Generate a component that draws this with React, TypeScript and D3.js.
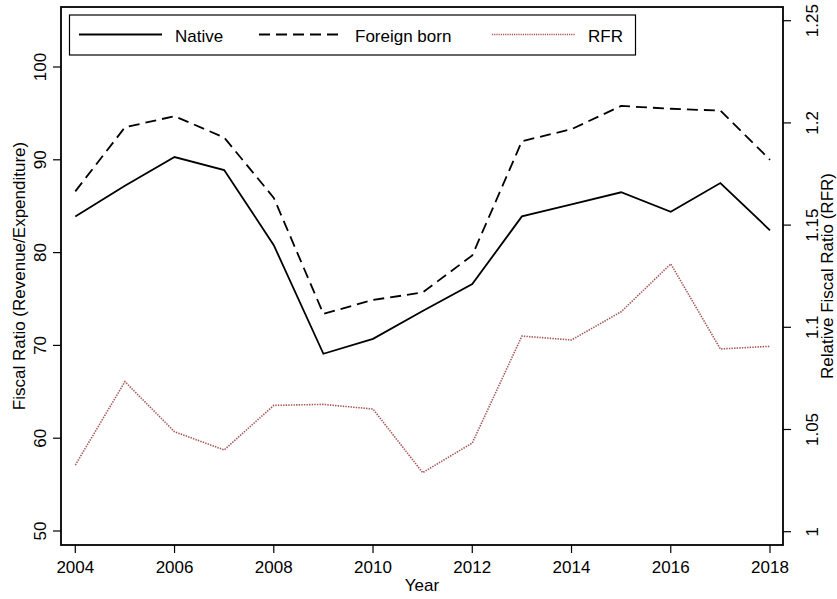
import React from "react";
import * as d3 from "d3";

const years = [2004, 2005, 2006, 2007, 2008, 2009, 2010, 2011, 2012, 2013, 2014, 2015, 2016, 2017, 2018];
const native = [83.9, 87.2, 90.3, 88.9, 80.8, 69.1, 70.7, 73.7, 76.6, 83.9, 85.2, 86.5, 84.4, 87.5, 82.4];
const foreignBorn = [86.6, 93.5, 94.7, 92.4, 85.9, 73.4, 74.9, 75.7, 79.7, 92.0, 93.3, 95.8, 95.5, 95.3, 90.0];
const rfr = [1.0326, 1.0734, 1.0489, 1.040, 1.0618, 1.0623, 1.060, 1.0289, 1.0434, 1.0957, 1.0938, 1.1076, 1.131, 1.0894, 1.0907];
const leftTicks = [50, 60, 70, 80, 90, 100];
const rightTicks = [1, 1.05, 1.1, 1.15, 1.2, 1.25];
const xTicks = [2004, 2006, 2008, 2010, 2012, 2014, 2016, 2018];
const rightTickLabels = ["1", "1.05", "1.1", "1.15", "1.2", "1.25"];

export default function App() {
  const W = 837, H = 599;
  const L = 61, R = 783, T = 7, B = 545;
  const fs = 17;
  const x = d3.scaleLinear().domain([2004, 2018]).range([75.3, 770]);
  const yL = d3.scaleLinear().domain([50, 100]).range([531, 67]);
  const yR = d3.scaleLinear().domain([1, 1.25]).range([531.7, 20.7]);
  const lineL = d3.line<number>().x((_, i) => x(years[i])).y((d) => yL(d));
  const lineR = d3.line<number>().x((_, i) => x(years[i])).y((d) => yR(d));
  const font = "'Liberation Sans', Arial, Helvetica, sans-serif";
  const rfrColor = "#a65555";
  return (
    <svg width={W} height={H} style={{ position: "absolute", left: 0, top: 0 }} fontFamily={font}>
      <rect x={0} y={0} width={W} height={H} fill="#fff" />
      <path d={lineR(rfr) || ""} fill="none" stroke={rfrColor} strokeWidth={1.6} strokeDasharray="1.4,1.2" />
      <path d={lineL(foreignBorn) || ""} fill="none" stroke="#000" strokeWidth={1.8} strokeDasharray="11,6" />
      <path d={lineL(native) || ""} fill="none" stroke="#000" strokeWidth={1.8} />
      <rect x={L} y={T} width={R - L} height={B - T} fill="none" stroke="#000" strokeWidth={1.8} />
      {/* left axis */}
      {leftTicks.map((t) => (
        <g key={"l" + t}>
          <line x1={L - 8} x2={L} y1={yL(t)} y2={yL(t)} stroke="#000" strokeWidth={1.2} />
          <text transform={`translate(${L - 15},${yL(t)}) rotate(-90)`} textAnchor="middle" fontSize={fs}>{t}</text>
        </g>
      ))}
      <text transform={`translate(25,${(T + B) / 2}) rotate(-90)`} textAnchor="middle" fontSize={fs}>Fiscal Ratio (Revenue/Expenditure)</text>
      {/* right axis */}
      {rightTicks.map((t, i) => (
        <g key={"r" + t}>
          <line x1={R} x2={R + 8} y1={yR(t)} y2={yR(t)} stroke="#000" strokeWidth={1.2} />
          <text transform={`translate(${R + 35},${yR(t)}) rotate(-90)`} textAnchor="middle" fontSize={fs}>{rightTickLabels[i]}</text>
        </g>
      ))}
      <text transform={`translate(833,${(T + B) / 2}) rotate(-90)`} textAnchor="middle" fontSize={fs}>Relative Fiscal Ratio (RFR)</text>
      {/* x axis */}
      {xTicks.map((t) => (
        <g key={"x" + t}>
          <line x1={x(t)} x2={x(t)} y1={B} y2={B + 8} stroke="#000" strokeWidth={1.2} />
          <text x={x(t)} y={B + 27.5} textAnchor="middle" fontSize={fs}>{t}</text>
        </g>
      ))}
      <text x={(L + R) / 2} y={591} textAnchor="middle" fontSize={fs}>Year</text>
      {/* legend */}
      <rect x={69.5} y={15} width={566} height={40} fill="#fff" stroke="#000" strokeWidth={1.2} />
      <line x1={79} x2={162} y1={34.5} y2={34.5} stroke="#000" strokeWidth={1.8} />
      <text x={175} y={42} fontSize={fs}>Native</text>
      <line x1={259} x2={342} y1={34.5} y2={34.5} stroke="#000" strokeWidth={1.8} strokeDasharray="11,6" />
      <text x={355} y={42} fontSize={fs}>Foreign born</text>
      <line x1={492} x2={575} y1={34.5} y2={34.5} stroke={rfrColor} strokeWidth={1.4} strokeDasharray="1.2,1" />
      <text x={588} y={42} fontSize={fs}>RFR</text>
    </svg>
  );
}
